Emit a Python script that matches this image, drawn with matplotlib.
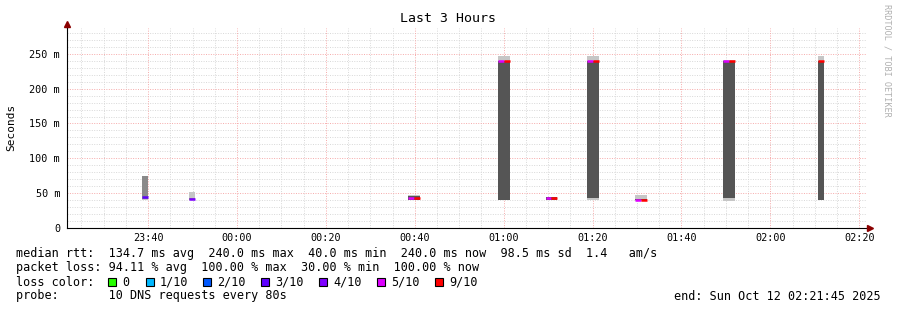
import matplotlib
matplotlib.use('Agg')
import matplotlib.pyplot as plt
from matplotlib.patches import Rectangle
from matplotlib.ticker import FuncFormatter

# Probe steps (80 s each), values in ms
step_start = ['23:38:40', '23:49:15', '00:38:30', '00:39:50', '00:58:40', '01:00:00',
              '01:09:25', '01:10:45', '01:18:45', '01:20:05', '01:29:30', '01:30:50',
              '01:49:20', '01:50:40', '02:10:45']
outer_lo = [40, 40, 40, 40, 40, 40, 40, 40, 40, 40, 39, 39, 39, 39, 40]
outer_hi = [75, 52, 47, 47, 247, 247, 45, 45, 247, 247, 47, 47, 241, 241, 247]
smoke_lo = [42, 40, 40, 40, 40, 40, 40, 40, 43, 43, 40, 40, 43, 43, 40]
smoke_hi = [74, 43, 46, 46, 240, 240, 44, 44, 240, 240, 42, 42, 239, 239, 240]
median = [44, 41, 43, 43, 239, 239, 43, 43, 239, 239, 40, 40, 239, 239, 239]
loss = [3, 4, 5, 9, 5, 9, 5, 9, 5, 9, 5, 9, 5, 9, 9]

loss_labels = ['0', '1/10', '2/10', '3/10', '4/10', '5/10', '9/10']
loss_values = [0, 1, 2, 3, 4, 5, 9]
loss_colors = ['#26ff00', '#00b8ff', '#0059ff', '#5e00ff', '#7e00ff', '#dd00ff', '#ff0000']

tick_labels = ['23:40', '00:00', '00:20', '00:40', '01:00', '01:20', '01:40', '02:00', '02:20']

legend_lines = [
    'median rtt:  134.7 ms avg  240.0 ms max  40.0 ms min  240.0 ms now  98.5 ms sd  1.4   am/s',
    'packet loss: 94.11 % avg  100.00 % max  30.00 % min  100.00 % now',
    'loss color:',
    'probe:       10 DNS requests every 80s',
]
end_text = 'end: Sun Oct 12 02:21:45 2025'

W, H = 897, 310
MONO = 'DejaVu Sans Mono'


def to_min(t):
    h, m, s = [int(v) for v in t.split(':')]
    if h >= 12:
        h -= 24
    return h * 60 + m + s / 60.0


def px(x, y):
    return x / W, 1 - y / H


x0 = to_min('23:21:45')
x1 = to_min('02:21:45')
step = 80 / 60.0

fig = plt.figure(figsize=(W / 100, H / 100), dpi=100)
fig.patch.set_facecolor('white')
ax = fig.add_axes([67 / W, 82 / H, 800 / W, 200 / H])
ax.set_xlim(x0, x1)
ax.set_ylim(0, 287)

# grid
minor_x = [v for v in range(-35, 145, 5) if v % 20 != 0]
for v in minor_x:
    ax.axvline(v, color='#d8d8d8', lw=0.7, ls=(0, (1, 1.5)), zorder=0)
for v in range(10, 290, 10):
    if v % 50:
        ax.axhline(v, color='#d8d8d8', lw=0.7, ls=(0, (1, 1.5)), zorder=0)
for v in range(-20, 145, 20):
    ax.axvline(v, color='#f6aaaa', lw=0.7, ls=(0, (1, 1.5)), zorder=0)
for v in range(50, 290, 50):
    ax.axhline(v, color='#f6aaaa', lw=0.7, ls=(0, (1, 1.5)), zorder=0)

# smoke bars and medians
xs = [to_min(t) for t in step_start]
color_of = dict(zip(loss_values, loss_colors))
for i, x in enumerate(xs):
    ax.bar(x, outer_hi[i] - outer_lo[i], bottom=outer_lo[i], width=step, align='edge',
           color='#c6c6c6', lw=0, zorder=2)
    shade = '#555555' if loss[i] >= 5 else '#8a8a8a'
    ax.bar(x, smoke_hi[i] - smoke_lo[i], bottom=smoke_lo[i], width=step, align='edge',
           color=shade, lw=0, zorder=3)
    ax.hlines(median[i], x, x + step, color=color_of[loss[i]], lw=1.8, zorder=4)

ax.set_xticks(range(-20, 145, 20))
ax.set_xticklabels(tick_labels)
ax.set_yticks(range(0, 251, 50))
ax.yaxis.set_major_formatter(FuncFormatter(lambda v, p: '0' if v == 0 else '%d m' % v))
ax.tick_params(length=0, labelsize=7.3)
ax.tick_params(axis='x', pad=3.5)
ax.tick_params(axis='y', pad=5)
for lab in ax.get_xticklabels() + ax.get_yticklabels():
    lab.set_family(MONO)
    lab.set_color('#000000')

for s in ['top', 'right']:
    ax.spines[s].set_visible(False)
ax.spines['left'].set_linewidth(0.8)
ax.spines['bottom'].set_linewidth(0.8)
ax.spines['bottom'].set_bounds(x0, x1 + 0.5)
ax.plot([x1 + 0.6], [0], marker='>', color='#8b0000', ms=4, clip_on=False, zorder=5)
ax.plot([x0], [293], marker='^', color='#8b0000', ms=4, clip_on=False, zorder=5)
ax.plot([x0, x0], [287, 293], color='black', lw=0.8, clip_on=False)

fig.text(*px(448, 19), 'Last 3 Hours', family=MONO, fontsize=9.5, ha='center', va='center')
fig.text(*px(11, 127), 'Seconds', family=MONO, fontsize=8, rotation=90, ha='center', va='center')
fig.text(*px(887, 60), 'RRDTOOL / TOBI OETIKER', family=MONO, fontsize=6.1, color='#b0b0b0',
         rotation=270, ha='center', va='center')

for i, line in enumerate(legend_lines):
    fig.text(*px(16, 254 + 14 * i), line, family=MONO, fontsize=8.5, ha='left', va='center')
fig.text(*px(881, 296), end_text, family=MONO, fontsize=8.5, ha='right', va='center')

box_x = [108, 146, 203, 261, 319, 377, 435]
for bx, lab, c in zip(box_x, loss_labels, loss_colors):
    fx, fy = px(bx, 286)
    fig.patches.append(Rectangle((fx, fy), 8 / W, 8 / H, transform=fig.transFigure,
                                 facecolor=c, edgecolor='black', lw=0.8))
    fig.text(*px(bx + 14, 282), lab, family=MONO, fontsize=8.5, ha='left', va='center')

fig.savefig('out.png', dpi=100)
